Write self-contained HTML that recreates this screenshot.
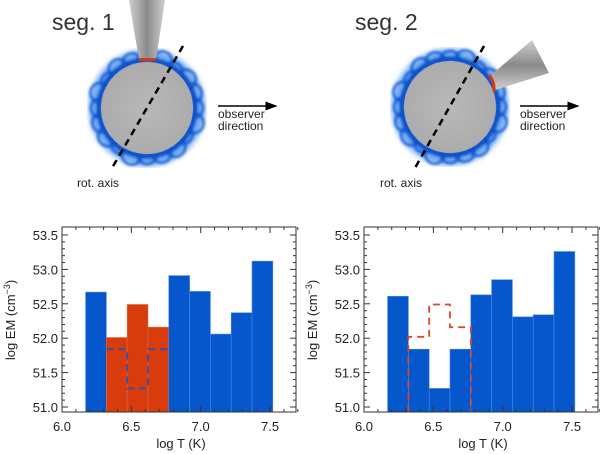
<!DOCTYPE html>
<html><head><meta charset="utf-8"><style>
body{margin:0;background:#fff;}
svg{display:block;font-family:"Liberation Sans","DejaVu Sans",sans-serif;}
</style></head><body>
<svg id="fig" width="600" height="454" viewBox="0 0 600 454">
<defs>
<radialGradient id="sph" cx="50%" cy="50%" r="50%"><stop offset="0" stop-color="#b8b8b8"/><stop offset="1" stop-color="#acacac"/></radialGradient>
<linearGradient id="cone1" x1="0" x2="1" y1="0" y2="0"><stop offset="0" stop-color="#cfcfcf"/><stop offset="0.5" stop-color="#8a8a8a"/><stop offset="1" stop-color="#cfcfcf"/></linearGradient>
<linearGradient id="cone2" x1="0" x2="0" y1="0" y2="1"><stop offset="0" stop-color="#cfcfcf"/><stop offset="0.5" stop-color="#8a8a8a"/><stop offset="1" stop-color="#cfcfcf"/></linearGradient>
<filter id="blur"><feGaussianBlur stdDeviation="1.2"/></filter>
<filter id="blur2"><feGaussianBlur stdDeviation="3"/></filter>
<marker id="arr" markerWidth="8" markerHeight="6" refX="7" refY="3" orient="auto"><path d="M0,0 L8,3 L0,6 z" fill="#000"/></marker>
</defs>
<g id="ill"></g>
<g id="charts"></g>
</svg>
<script>
const binStart = 6.17, binWidth = 0.15;
const emSeg1 = [52.67, 52.01, 52.49, 52.16, 52.91, 52.68, 52.06, 52.37, 53.12];
const colorSeg1 = ['b','r','r','r','b','b','b','b','b'];
const emSeg2 = [52.61, 51.84, 51.27, 51.84, 52.63, 52.85, 52.31, 52.34, 53.26];
const colorSeg2 = ['b','b','b','b','b','b','b','b','b'];
const dashSeg1 = [51.84, 51.27, 51.84];
const dashSeg2 = [52.02, 52.49, 52.16];
const dashStartBin = 1;
const xTicks = [6.0, 6.5, 7.0, 7.5];
const yTicks = [51.0, 51.5, 52.0, 52.5, 53.0, 53.5];
const NS='http://www.w3.org/2000/svg';
function mk(parent,tag,attrs){const e=document.createElementNS(NS,tag);for(const k in attrs)e.setAttribute(k,attrs[k]);parent.appendChild(e);return e;}

const ill=document.getElementById('ill');
function drawSeg(cx,cy,seg){
  const g=mk(ill,'g',{});
  
  
  mk(g,'circle',{cx:cx,cy:cy,r:50,fill:'none',stroke:'#4a90ee','stroke-width':16,filter:'url(#blur2)',opacity:0.8});
  const ring=mk(g,'g',{filter:'url(#blur)'});
  for(let i=0;i<20;i++){const a=i/20*Math.PI*2;const r=[46,49,44,48,47][i%5];
    mk(ring,'circle',{cx:cx+Math.cos(a)*r,cy:cy+Math.sin(a)*r,r:10,fill:'none',stroke:'#0a55d0','stroke-width':2.2});}
  mk(ring,'circle',{cx:cx,cy:cy,r:48,fill:'none',stroke:'#0a50c8','stroke-width':5});
  const s=mk(g,'circle',{cx:cx,cy:cy,r:46,fill:'url(#sph)'});
  
  
  return g;
}
const g1=drawSeg(147,108,'seg1');
const c1=mk(g1,'polygon',{points:'129,0 165,0 156,60 139,60',fill:'url(#cone1)'});


mk(g1,'rect',{x:139,y:58,width:17,height:3,fill:'#d83a10'});
const g2=drawSeg(450,107,'seg2');
const c2=mk(g2,'polygon',{points:'490,76 532,40 549,73 495,90',fill:'url(#cone2)'});


mk(g2,'path',{d:'M489,75 Q495,82 494,92',fill:'none',stroke:'#d83a10','stroke-width':3});
function txt(p,x,y,t,size,name,anchor,fill){const e=mk(p,'text',{x:x,y:y,'font-size':size,fill:fill||'#222','text-anchor':anchor||'start'});e.textContent=t;return e;}
txt(ill,52,30,'seg. 1',23,'seg1-title','start','#333');
txt(ill,355,30,'seg. 2',23,'seg2-title','start','#333');
[[183,46,112,168,77],[484,46,415,168,380]].forEach(([x1,y1,x2,y2,tx])=>{
  const l=mk(ill,'line',{x1:x1,y1:y1,x2:x2,y2:y2,stroke:'#000','stroke-width':2.5,'stroke-dasharray':'7,5'});
  
  
  txt(ill,tx,187,'rot. axis',12,'rot-axis-label');
});
[218,520].forEach(x=>{
  const a=mk(ill,'line',{x1:x,y1:106,x2:x+58,y2:106,stroke:'#000','stroke-width':1.5,'marker-end':'url(#arr)'});
  
  
  txt(ill,x,118,'observer',12,'observer-label');
  txt(ill,x,130,'direction',12,'direction-label');
});

const charts=document.getElementById('charts');
function chart(left,em,cols,dash,dashColor,outline,name){
  const top=227,bottom=412,right=left+234;
  const X=v=>left+(v-6.0)*138.7;
  const Y=v=>407-(v-51.0)*68.8;
  const g=mk(charts,'g',{});
  
  
  em.forEach((v,i)=>{
    const x0=X(binStart+i*binWidth),x1=X(binStart+(i+1)*binWidth);
    const r=mk(g,'rect',{x:x0,y:Y(v),width:x1-x0,height:bottom-Y(v),fill:cols[i]==='r'?'#d83c0c':'#0656cc',stroke:cols[i]==='r'?'#e26a40':'#4a8ae0','stroke-width':0.6});
    
    
  });
  let d='';
  const xs=k=>X(binStart+(dashStartBin+k)*binWidth);
  if(outline){d+='M'+xs(0)+','+bottom+' L'+xs(0)+','+Y(dash[0]);}
  else d+='M'+xs(0)+','+Y(dash[0]);
  dash.forEach((v,k)=>{d+=' L'+xs(k)+','+Y(v)+' L'+xs(k+1)+','+Y(v);});
  if(outline)d+=' L'+xs(dash.length)+','+bottom;
  const p=mk(g,'path',{d:d,fill:'none',stroke:dashColor,'stroke-width':1.8,'stroke-dasharray':'7,5'});
  
  
  const ax=mk(g,'rect',{x:left,y:top,width:right-left,height:bottom-top,fill:'none',stroke:'#333','stroke-width':1});
  
  
  for(let v=6.0;v<=7.71;v+=0.1){const x=X(v);const maj=Math.abs(v*2-Math.round(v*2))<1e-6;const L=maj?6:3;
    mk(g,'line',{x1:x,y1:bottom,x2:x,y2:bottom-L,stroke:'#333'});mk(g,'line',{x1:x,y1:top,x2:x,y2:top+L,stroke:'#333'});}
  for(let v=51.0;v<=53.6;v+=0.1){const y=Y(v);if(y<top||y>bottom)continue;const maj=Math.abs(v*2-Math.round(v*2))<1e-6;const L=maj?6:3;
    mk(g,'line',{x1:left,y1:y,x2:left+L,y2:y,stroke:'#333'});mk(g,'line',{x1:right,y1:y,x2:right-L,y2:y,stroke:'#333'});}
  xTicks.forEach(v=>txt(g,X(v),431,v.toFixed(1),13,'x-tick-label','middle'));
  yTicks.forEach(v=>txt(g,left-4,Y(v)+5,v.toFixed(1),13,'y-tick-label','end'));
  txt(g,(left+right)/2+2,448,'log T (K)',13,'x-axis-title','middle');
  const yt=mk(g,'text',{x:0,y:0,'font-size':13,fill:'#222','text-anchor':'middle',transform:'translate('+(left-47)+',320) rotate(-90)'});
  yt.innerHTML='log EM (cm<tspan dy="-5" font-size="9">−3</tspan><tspan dy="5">)</tspan>';
  
  
}
chart(62,emSeg1,colorSeg1,dashSeg1,'#3050b0',false,'seg1-em-chart');
chart(364,emSeg2,colorSeg2,dashSeg2,'#d84a2a',true,'seg2-em-chart');
</script>
</body></html>
